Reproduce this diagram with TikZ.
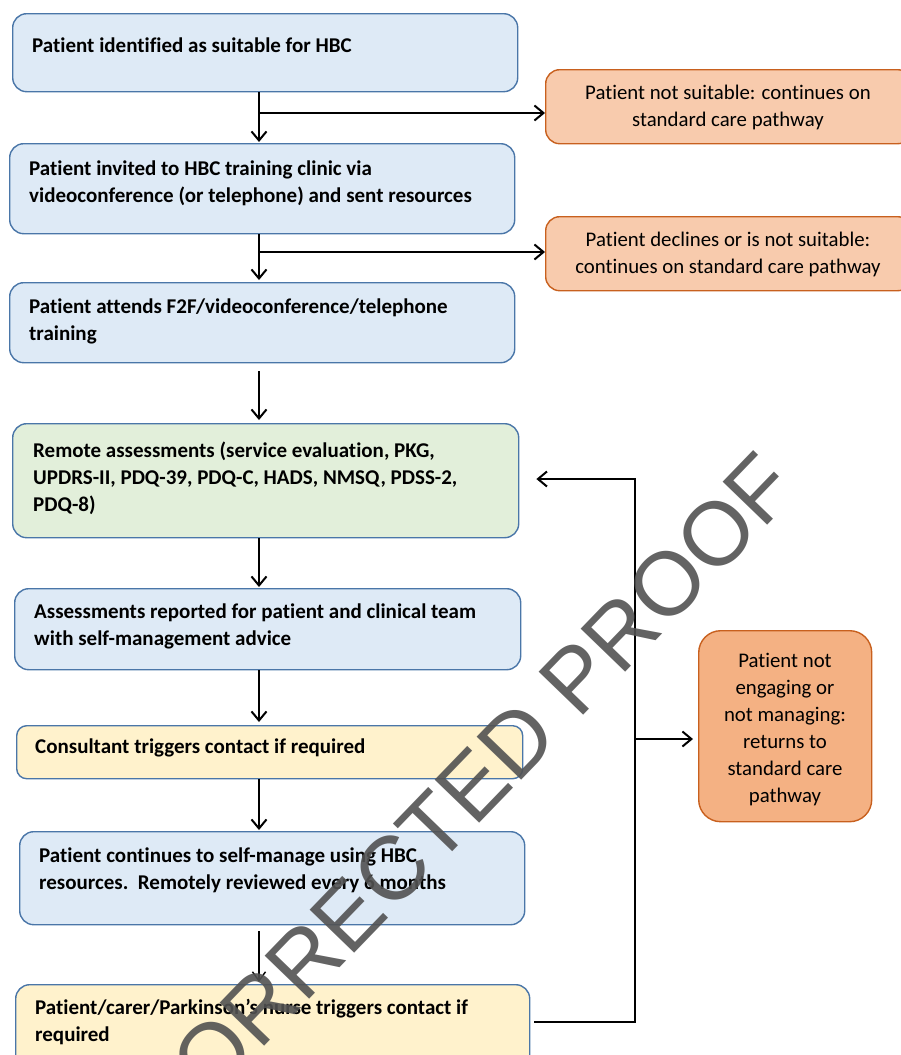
\documentclass[tikz,border=0pt]{standalone}
\usepackage{fontspec}
\setmainfont{Carlito}[Ligatures=NoCommon]
\newfontfamily\wmfont{Liberation Sans}
\usetikzlibrary{arrows.meta,calc}
\definecolor{bluefill}{HTML}{DEEAF6}
\definecolor{blueline}{HTML}{4A76A8}
\definecolor{greenfill}{HTML}{E2EFDA}
\definecolor{yellowfill}{HTML}{FFF2CC}
\definecolor{orangefill}{HTML}{F8CBAD}
\definecolor{orangedark}{HTML}{F4B183}
\definecolor{orangeline}{HTML}{C8601E}
\begin{document}
\begin{tikzpicture}[x=1pt,y=-1pt,
  box/.style={draw=blueline, line width=1.4pt, rounded corners=14pt, inner sep=0pt},
  obox/.style={draw=orangeline, line width=1.4pt, rounded corners=14pt, inner sep=0pt},
  btxt/.style={font=\fontsize{21}{27}\selectfont\bfseries, align=left, anchor=west, inner sep=0pt},
  otxt/.style={font=\fontsize{20.8}{27}\selectfont, align=center, inner sep=0pt},
  arr/.style={line width=2.2pt, -{Straight Barb[length=9pt,width=15pt,line width=2pt]}},
  thinarr/.style={line width=1.4pt, -{Straight Barb[length=9pt,width=13pt,line width=1.4pt]}},
  wm/.style={font=\wmfont\fontsize{90}{90}\selectfont, text=black!68, opacity=0.9, rotate=46}
]
\useasboundingbox (0,0) rectangle (901,1055);
\clip (0,0) rectangle (901,1055);
\coordinate (cx) at (259,0);
\coordinate (lx) at (635,0);
% main boxes
\node[box, fill=bluefill, minimum width=505pt, minimum height=78pt, anchor=north west] (b1) at (12,13) {};
\node[btxt] (t1) at (32,45) {Patient identified as suitable for HBC};
\node[box, fill=bluefill, minimum width=505pt, minimum height=90pt, anchor=north west] (b2) at (9,143) {};
\node[btxt] (t2) at (29,183) {Patient invited to HBC training clinic via\\videoconference (or telephone) and sent resources};
\node[box, fill=bluefill, minimum width=505pt, minimum height=80pt, anchor=north west] (b3) at (9,282) {};
\node[btxt] (t3) at (29,321) {Patient attends F2F/videoconference/telephone\\training};
\node[box, fill=greenfill, minimum width=506pt, minimum height=114pt, anchor=north west] (b4) at (12,423) {};
\node[btxt] (t4) at (33,478.5) {Remote assessments (service evaluation, PKG,\\UPDRS-II, PDQ-39, PDQ-C, HADS, NMSQ, PDSS-2,\\PDQ-8)};
\node[box, fill=bluefill, minimum width=506pt, minimum height=81pt, anchor=north west] (b5) at (14,588) {};
\node[btxt] (t5) at (34,626.5) {Assessments reported for patient and clinical team\\with self-management advice};
\node[box, fill=yellowfill, minimum width=506pt, minimum height=53pt, anchor=north west, rounded corners=10pt] (b6) at (16,725) {};
\node[btxt] (t6) at (35,748) {Consultant triggers contact if required};
\node[box, fill=bluefill, minimum width=505pt, minimum height=93pt, anchor=north west] (b7) at (19,831) {};
\node[btxt] (t7) at (39,870.5) {Patient continues to self-manage using HBC\\resources.\ \ Remotely reviewed every 6 months};
\node[box, fill=yellowfill, minimum width=514pt, minimum height=85pt, anchor=north west] (b8) at (15,984) {};
\node[btxt] (t8) at (35,1021.5) {Patient/carer/Parkinson’s nurse triggers contact if\\required};
% orange boxes
\node[obox, fill=orangefill, minimum width=366pt, minimum height=74pt, anchor=north west] (o1) at (545,69) {};
\node[otxt] (ot1) at (728,107.5) {Patient not suitable: continues on\\standard care pathway};
\node[obox, fill=orangefill, minimum width=366pt, minimum height=74pt, anchor=north west] (o2) at (545,216) {};
\node[otxt] (ot2) at (728,254.5) {Patient declines or is not suitable:\\continues on standard care pathway};
\node[obox, fill=orangedark, minimum width=173pt, minimum height=191pt, anchor=north west, rounded corners=22pt] (o3) at (698,630) {};
\node[otxt] (ot3) at (785,730) {Patient not\\engaging or\\not managing:\\returns to\\standard care\\pathway};
% junctions
\coordinate (j1) at (259,113);
\coordinate (j2) at (259,252);
\coordinate (j3) at (635,739);
% connectors
\draw[arr] (b1.south -| cx) -- ($(b2.north -| cx)+(0,-1)$);
\draw[arr] (j1) -- (j1 -| o1.west);
\draw[arr] (b2.south -| cx) -- ($(b3.north -| cx)+(0,-2)$);
\draw[arr] (j2) -- (j2 -| o2.west);
\draw[arr] ($(b3.south -| cx)+(0,8)$) -- ($(b4.north -| cx)+(0,-3)$);
\draw[arr] (b4.south -| cx) -- ($(b5.north -| cx)+(0,-1)$);
\draw[arr] (b5.south -| cx) -- ($(b6.north -| cx)+(0,-3)$);
\draw[arr] (b6.south -| cx) -- ($(b7.north -| cx)+(0,-1)$);
\draw[thinarr] ($(b7.south -| cx)+(0,6)$) -- ($(b8.north -| cx)+(0,-2)$);
\coordinate (l1) at ($(b8.east |- 0,1022)+(4,0)$);
\coordinate (l2) at ($(b4.east |- 0,479)+(17,0)$);
\draw[arr] (l1) -- (l1 -| lx) -- (l2 -| lx) -- (l2);
\draw[arr] (j3) -- ($(j3 -| o3.west)+(-5,0)$);
% watermark
\node[wm] (wmk) at (461,798) {CORRECTED PROOF};
\end{tikzpicture}
\end{document}
